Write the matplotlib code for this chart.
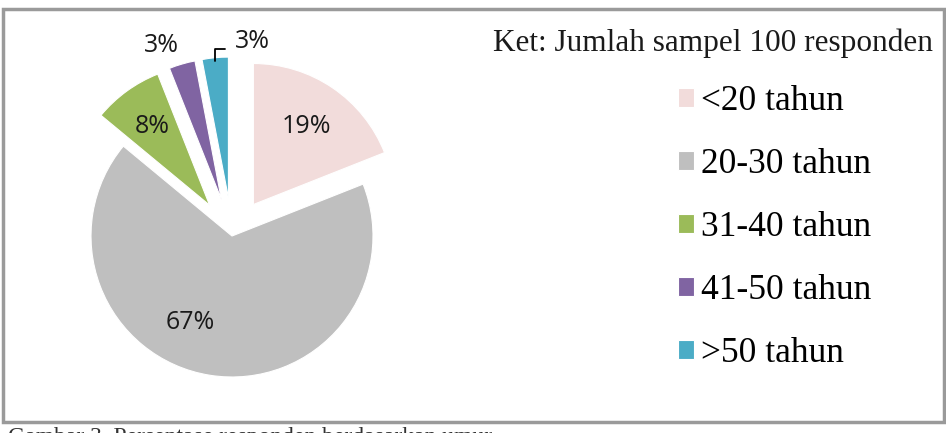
import numpy as np
import matplotlib
matplotlib.use("Agg")
import matplotlib.pyplot as plt
from matplotlib.patches import Rectangle

# data
labels = ["<20 tahun", "20-30 tahun", "31-40 tahun", "41-50 tahun", ">50 tahun"]
values = [19, 67, 8, 3, 3]
colors = ["#F2DCDB", "#BFBFBF", "#9BBB59", "#8064A2", "#4BACC6"]
explode = [0.27, 0, 0.27, 0.27, 0.27]
note = "Ket: Jumlah sampel 100 responden"
caption = "Gambar 3. Persentase responden berdasarkan umur"

# label placement (distance from wedge apex, angle shift in degrees)
lab_dist = [0.67, 0.68, 0.69, 1.17, 1.12]
lab_shift = [0, -17, 0, 5, -14]

W, H = 946, 433
fig = plt.figure(figsize=(W / 100, H / 100), dpi=100)

# outer frame
fig.patches.append(Rectangle((3 / W, 1 - 422 / H), 941 / W, 413 / H,
                             transform=fig.transFigure, fill=False,
                             edgecolor="#9a9a9a", linewidth=2.5))

# pie axes: centre at (232, 236) px, radius 141 px
R = 141
cx, cy = 232, H - 236
lim = 1.4
side = 2 * lim * R
ax = fig.add_axes([(cx - side / 2) / W, (cy - side / 2) / H, side / W, side / H])
wedges, _ = ax.pie(values, colors=colors, explode=explode, startangle=90,
                   counterclock=False, radius=1,
                   wedgeprops=dict(edgecolor="white", linewidth=0.8))
ax.set_xlim(-lim, lim)
ax.set_ylim(-lim, lim)
ax.axis("off")

for i, w in enumerate(wedges):
    w.set_clip_on(False)
    mid = np.deg2rad((w.theta1 + w.theta2) / 2)
    ox, oy = explode[i] * np.cos(mid), explode[i] * np.sin(mid)
    a = mid + np.deg2rad(lab_shift[i])
    tx = ox + lab_dist[i] * np.cos(a)
    ty = oy + lab_dist[i] * np.sin(a)
    ax.text(tx, ty, f"{values[i]}%", ha="center", va="center",
            fontsize=18, family="Open Sans", color="#1a1a1a", clip_on=False)
    if i == len(wedges) - 1:
        # leader line for the last small slice
        px, py = ox + 0.98 * np.cos(mid), oy + 0.98 * np.sin(mid)
        ax.annotate("", xy=(px, py), xytext=(tx - 0.19, ty - 0.05),
                    arrowprops=dict(arrowstyle="-", color="black", lw=1.3,
                                    shrinkA=0, shrinkB=0,
                                    connectionstyle="angle,angleA=0,angleB=90,rad=0"),
                    annotation_clip=False)

fig.text(493 / W, 1 - 43 / H, note, va="center", ha="left",
         fontsize=22.5, family="Liberation Serif", color="#1a1a1a")

fig.legend(wedges, labels, loc="upper left",
           bbox_to_anchor=(678 / W, 1 - 85 / H),
           frameon=False, prop=dict(family="Liberation Serif", size=25.5),
           handlelength=0.45, handleheight=0.45, handletextpad=0.2,
           labelspacing=0.85, borderpad=0, borderaxespad=0)

fig.text(8 / W, 1 - 427 / H, caption, va="top", ha="left",
         fontsize=17, family="Liberation Serif", color="#333333")

fig.savefig("out.png", dpi=100)
